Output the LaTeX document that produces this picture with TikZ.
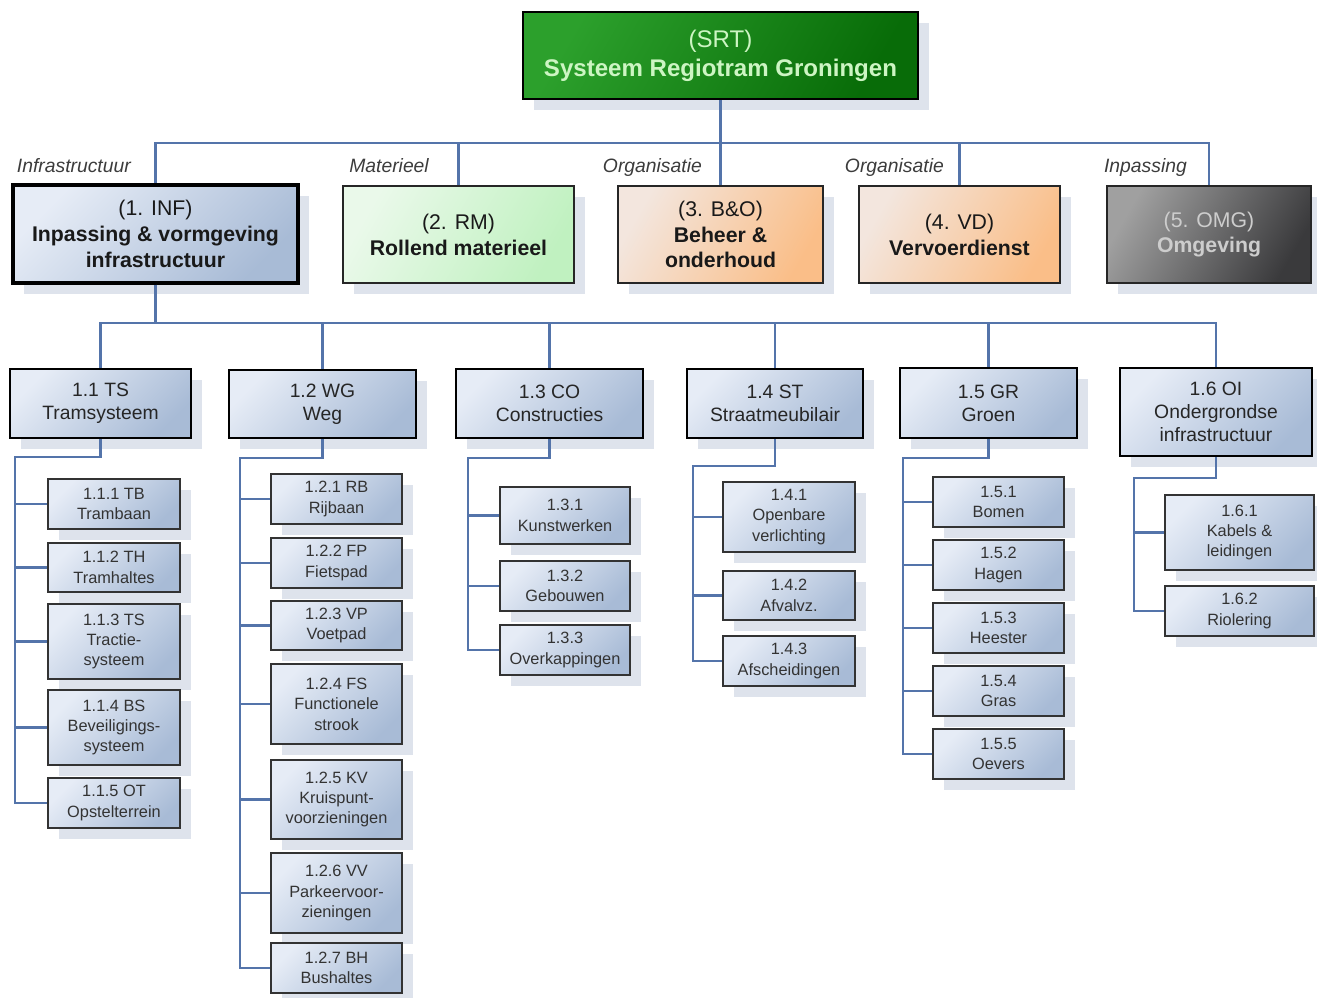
\documentclass[tikz,border=0pt]{standalone}
\usepackage{fontspec}
\setmainfont{Liberation Sans}
\usetikzlibrary{shadows,calc}

\definecolor{linkblue}{RGB}{84,116,170}
\definecolor{bluetop}{RGB}{230,236,246}
\definecolor{bluebot}{RGB}{168,187,214}
\definecolor{shadowgray}{RGB}{222,227,236}
\definecolor{srtlight}{RGB}{44,160,44}
\definecolor{srtdark}{RGB}{8,108,8}
\definecolor{srttext}{RGB}{205,245,195}
\definecolor{rmlight}{RGB}{234,249,234}
\definecolor{rmdark}{RGB}{192,241,192}
\definecolor{orlight}{RGB}{243,230,222}
\definecolor{ordark}{RGB}{250,190,136}
\definecolor{omglight}{RGB}{160,160,160}
\definecolor{omgdark}{RGB}{58,58,60}
\definecolor{omgtext}{RGB}{205,205,205}
\definecolor{cattext}{RGB}{60,60,60}

\begin{document}
\begin{tikzpicture}[
    x=0.02cm, y=-0.02cm, % 1 eenheid = 1 pixel van het origineel
    link/.style={draw=linkblue, line width=1.2pt},
    boxshadow/.style={drop shadow={shadow xshift=0.22cm, shadow yshift=-0.22cm, fill=shadowgray, opacity=1}},
    wbs/.style={rectangle, align=center, inner sep=2pt, boxshadow},
    srtbox/.style={wbs, draw=black, line width=1.4pt, top color=srtlight, bottom color=srtdark, shading angle=60,
        text=srttext, font=\fontsize{13.7}{16.4}\selectfont},
    mainbox/.style={wbs, draw=black!85, line width=1.1pt, font=\fontsize{12.1}{14.7}\selectfont},
    infbox/.style={mainbox, draw=black, line width=2.2pt, top color=bluetop, bottom color=bluebot, shading angle=45, text=black!90},
    rmbox/.style={mainbox, top color=rmlight, bottom color=rmdark, shading angle=60, text=black!90},
    orbox/.style={mainbox, top color=orlight, bottom color=ordark, shading angle=60, text=black!90},
    omgbox/.style={mainbox, top color=omglight, bottom color=omgdark, shading angle=60, text=omgtext},
    lvltwo/.style={wbs, draw=black, line width=1.6pt, top color=bluetop, bottom color=bluebot, shading angle=45,
        text=black!85, font=\fontsize{11}{13}\selectfont},
    lvlthree/.style={wbs, draw=black!80, line width=1.1pt, top color=bluetop, bottom color=bluebot, shading angle=45,
        text=black!80, font=\fontsize{9.3}{11.6}\selectfont},
    cat/.style={anchor=base east, text=cattext, font=\itshape\fontsize{11}{13}\selectfont}
]

    % --- 0. Kader ---
    \useasboundingbox (0,0) rectangle (1317,997);

    % macro: box vanuit de hoeken (stijl, naam, x1, y1, x2, y2, tekst)
    \newcommand{\wbsbox}[7]{
        \node[#1, minimum width={(#5-#3)*0.02cm}, minimum height={(#6-#4)*0.02cm}]
            (#2) at ({(#3+#5)/2}, {(#4+#6)/2}) {#7};
    }

    % --- 1. Systeem ---
    \wbsbox{srtbox}{srt}{523}{12}{918}{99}{(SRT)\\\textbf{Systeem Regiotram Groningen}}

    % --- 2. Deelsystemen ---
    \wbsbox{infbox}{inf}{13}{185}{298}{283}{(1. INF)\\\textbf{Inpassing \& vormgeving}\\\textbf{infrastructuur}}
    \wbsbox{rmbox}{rm}{343}{186}{574}{283}{(2. RM)\\\textbf{Rollend materieel}}
    \wbsbox{orbox}{bo}{618}{186}{823}{283}{(3. B\&O)\\\textbf{Beheer \&}\\\textbf{onderhoud}}
    \wbsbox{orbox}{vd}{859}{186}{1060}{283}{(4. VD)\\\textbf{Vervoerdienst}}
    \wbsbox{omgbox}{omg}{1107}{186}{1311}{283}{(5. OMG)\\\textbf{Omgeving}}

    % categorie labels
    \node[cat] (catinf) at (137,172) {Infrastructuur};
    \node[cat] (catrm) at (435,172) {Materieel};
    \node[cat] (catbo) at (708,172) {Organisatie};
    \node[cat] (catvd) at (950,172) {Organisatie};
    \node[cat] (catomg) at (1193,172) {Inpassing};

    % --- 3. Infrastructuur onderdelen ---
    \wbsbox{lvltwo}{ts}{10}{369}{191}{438}{1.1 TS\\Tramsysteem}
    \wbsbox{lvltwo}{wg}{229}{370}{416}{438}{1.2 WG\\Weg}
    \wbsbox{lvltwo}{co}{456}{369}{643}{438}{1.3 CO\\Constructies}
    \wbsbox{lvltwo}{st}{687}{369}{863}{438}{1.4 ST\\Straatmeubilair}
    \wbsbox{lvltwo}{gr}{900}{368}{1077}{438}{1.5 GR\\Groen}
    \wbsbox{lvltwo}{oi}{1120}{368}{1312}{456}{1.6 OI\\Ondergrondse\\infrastructuur}

    % --- 4. Elementen ---
    % 1.1 Tramsysteem
    \wbsbox{lvlthree}{n111}{48}{479}{180}{529}{1.1.1 TB\\Trambaan}
    \wbsbox{lvlthree}{n112}{48}{543}{180}{592}{1.1.2 TH\\Tramhaltes}
    \wbsbox{lvlthree}{n113}{48}{604}{180}{679}{1.1.3 TS\\Tractie-\\systeem}
    \wbsbox{lvlthree}{n114}{48}{690}{180}{765}{1.1.4 BS\\Beveiligings-\\systeem}
    \wbsbox{lvlthree}{n115}{48}{778}{180}{828}{1.1.5 OT\\Opstelterrein}

    % 1.2 Weg
    \wbsbox{lvlthree}{n121}{271}{474}{402}{524}{1.2.1 RB\\Rijbaan}
    \wbsbox{lvlthree}{n122}{271}{538}{402}{588}{1.2.2 FP\\Fietspad}
    \wbsbox{lvlthree}{n123}{271}{601}{402}{650}{1.2.3 VP\\Voetpad}
    \wbsbox{lvlthree}{n124}{271}{664}{402}{744}{1.2.4 FS\\Functionele\\strook}
    \wbsbox{lvlthree}{n125}{271}{760}{402}{839}{1.2.5 KV\\Kruispunt-\\voorzieningen}
    \wbsbox{lvlthree}{n126}{271}{853}{402}{933}{1.2.6 VV\\Parkeervoor-\\zieningen}
    \wbsbox{lvlthree}{n127}{271}{943}{402}{993}{1.2.7 BH\\Bushaltes}

    % 1.3 Constructies
    \wbsbox{lvlthree}{n131}{500}{487}{630}{544}{1.3.1\\Kunstwerken}
    \wbsbox{lvlthree}{n132}{500}{561}{630}{611}{1.3.2\\Gebouwen}
    \wbsbox{lvlthree}{n133}{500}{625}{630}{675}{1.3.3\\Overkappingen}

    % 1.4 Straatmeubilair
    \wbsbox{lvlthree}{n141}{723}{482}{855}{552}{1.4.1\\Openbare\\verlichting}
    \wbsbox{lvlthree}{n142}{723}{571}{855}{620}{1.4.2\\Afvalvz.}
    \wbsbox{lvlthree}{n143}{723}{636}{855}{686}{1.4.3\\Afscheidingen}

    % 1.5 Groen
    \wbsbox{lvlthree}{n151}{933}{477}{1064}{527}{1.5.1\\Bomen}
    \wbsbox{lvlthree}{n152}{933}{540}{1064}{590}{1.5.2\\Hagen}
    \wbsbox{lvlthree}{n153}{933}{603}{1064}{653}{1.5.3\\Heester}
    \wbsbox{lvlthree}{n154}{933}{666}{1064}{716}{1.5.4\\Gras}
    \wbsbox{lvlthree}{n155}{933}{729}{1064}{779}{1.5.5\\Oevers}

    % 1.6 Ondergrondse infrastructuur
    \wbsbox{lvlthree}{n161}{1165}{495}{1314}{570}{1.6.1\\Kabels \&\\leidingen}
    \wbsbox{lvlthree}{n162}{1165}{586}{1314}{636}{1.6.2\\Riolering}

    % --- 5. Verbindingen ---
    \coordinate (topbus) at ($(srt.south)+(0,43)$);
    \foreach \n in {inf,rm,bo,vd,omg}
        \draw[link] (srt.south) |- (topbus) -| (\n.north);

    \coordinate (infbus) at ($(inf.south)+(0,38)$);
    \foreach \n in {ts,wg,co,st,gr,oi}
        \draw[link] (inf.south) |- (infbus) -| (\n.north);

    \coordinate (tsbus) at (15,457);
    \draw[link] (ts.south) |- (tsbus) |- (n115.west);
    \foreach \c in {n111,n112,n113,n114}
        \draw[link] (tsbus |- \c.west) -- (\c.west);

    \coordinate (wgbus) at (240,458);
    \draw[link] (wg.south) |- (wgbus) |- (n127.west);
    \foreach \c in {n121,n122,n123,n124,n125,n126}
        \draw[link] (wgbus |- \c.west) -- (\c.west);

    \coordinate (cobus) at (468,458);
    \draw[link] (co.south) |- (cobus) |- (n133.west);
    \foreach \c in {n131,n132}
        \draw[link] (cobus |- \c.west) -- (\c.west);

    \coordinate (stbus) at (693,466);
    \draw[link] (st.south) |- (stbus) |- (n143.west);
    \foreach \c in {n141,n142}
        \draw[link] (stbus |- \c.west) -- (\c.west);

    \coordinate (grbus) at (903,458);
    \draw[link] (gr.south) |- (grbus) |- (n155.west);
    \foreach \c in {n151,n152,n153,n154}
        \draw[link] (grbus |- \c.west) -- (\c.west);

    \coordinate (oibus) at (1134,478);
    \draw[link] (oi.south) |- (oibus) |- (n162.west);
    \draw[link] (oibus |- n161.west) -- (n161.west);

\end{tikzpicture}
\end{document}
